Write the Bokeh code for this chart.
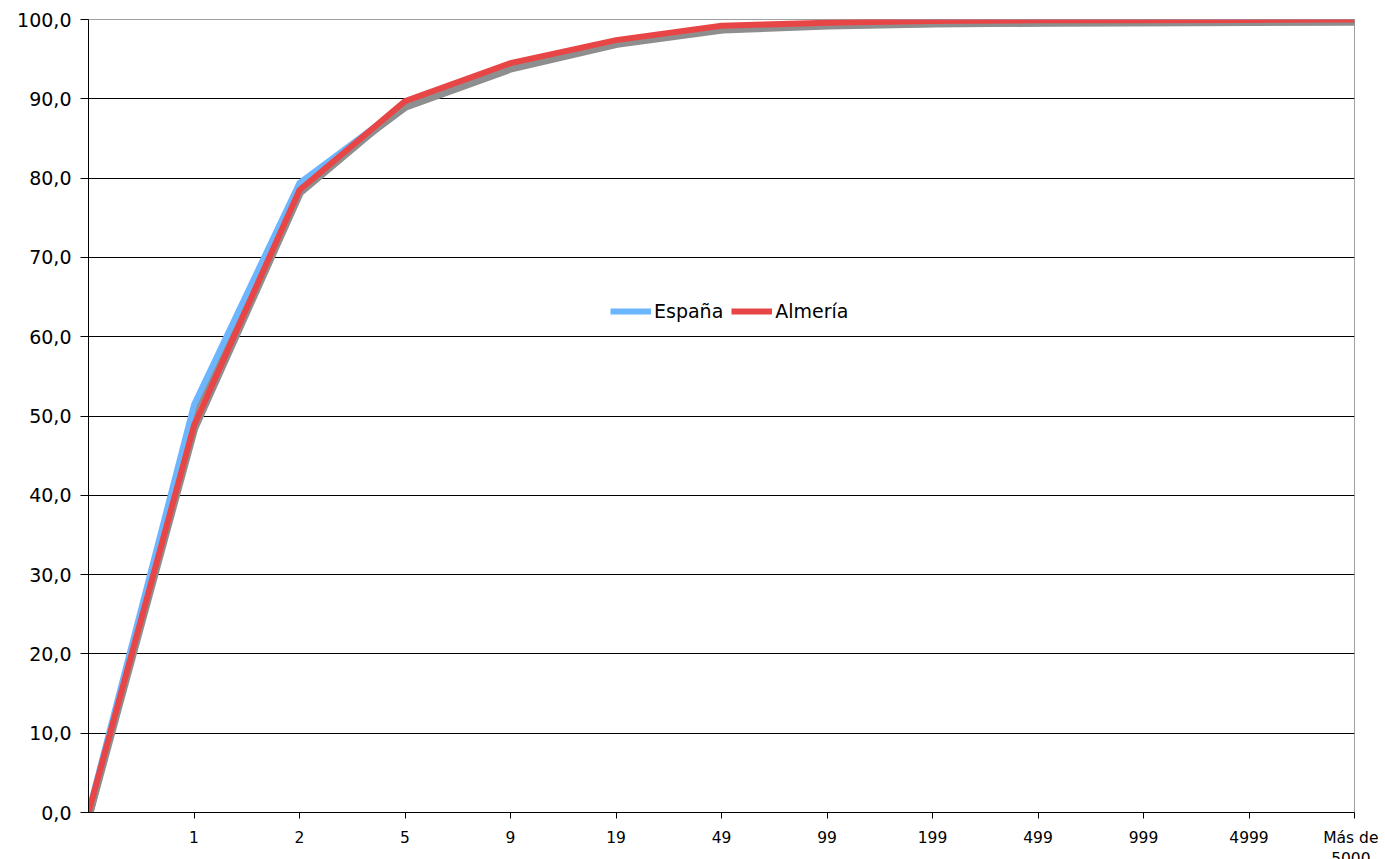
from bokeh.plotting import figure
from bokeh.models import FixedTicker, Legend, LegendItem, Range1d, ColumnDataSource
from bokeh.transform import dodge
from bokeh.embed import file_html
from bokeh.resources import INLINE

categories = ["", "1", "2", "5", "9", "19", "49", "99", "199", "499", "999", "4999", "Más de\n5000"]
espana = [0.0, 51.4, 79.4, 89.3, 94.1, 97.2, 99.0, 99.5, 99.75, 99.85, 99.9, 99.95, 100.0]
almeria = [0.0, 48.8, 78.5, 89.7, 94.5, 97.4, 99.2, 99.6, 99.8, 99.9, 99.9, 99.95, 100.0]
y_ticks = [0, 10, 20, 30, 40, 50, 60, 70, 80, 90, 100]
y_labels = ["0,0", "10,0", "20,0", "30,0", "40,0", "50,0", "60,0", "70,0", "80,0", "90,0", "100,0"]

xs = list(range(len(categories)))
src = ColumnDataSource(dict(x=xs, esp=espana, alm=almeria))

FONT = "DejaVu Sans"

p = figure(frame_width=1266, frame_height=793, min_border_left=88, min_border_top=19,
           min_border_right=24, min_border_bottom=40,
           output_backend="svg", toolbar_location=None,
           x_range=Range1d(0, len(categories) - 1), y_range=Range1d(0, 100))

p.outline_line_color = "#a0a0a0"
p.outline_line_width = 1
p.xgrid.visible = False
p.ygrid.ticker = FixedTicker(ticks=y_ticks[1:-1])
p.ygrid.grid_line_color = "#000000"
p.ygrid.grid_line_width = 1

# axes
p.yaxis.ticker = FixedTicker(ticks=y_ticks)
p.yaxis.major_label_overrides = {t: l for t, l in zip(y_ticks, y_labels)}
p.yaxis.major_label_text_font = FONT
p.yaxis.major_label_text_font_size = "19px"
p.yaxis.major_label_text_color = "#000000"
p.yaxis.axis_line_color = "#000000"
p.yaxis.major_tick_line_color = "#000000"
p.yaxis.major_tick_out = 8
p.yaxis.major_tick_in = 0
p.yaxis.minor_tick_line_color = None
p.yaxis.major_label_standoff = 9

p.xaxis.ticker = FixedTicker(ticks=xs[1:])
p.xaxis.major_label_overrides = {x: c for x, c in zip(xs, categories)}
p.xaxis.major_label_text_font = FONT
p.xaxis.major_label_text_font_size = "15.5px"
p.xaxis.major_label_text_color = "#000000"
p.xaxis.axis_line_color = "#000000"
p.xaxis.major_tick_line_color = "#000000"
p.xaxis.major_tick_out = 6
p.xaxis.major_tick_in = 0
p.xaxis.minor_tick_line_color = None
p.xaxis.major_label_standoff = 10

SHADOW = "#8e8e8e"
# España
p.line(x=dodge("x", 0.012), y=dodge("esp", -0.38), source=src, line_color=SHADOW, line_width=6, line_join="miter")
r_esp = p.line(x="x", y="esp", source=src, line_color="#6bb6ff", line_width=6, line_join="miter")
# Almería
p.line(x=dodge("x", 0.012), y=dodge("alm", -0.38), source=src, line_color=SHADOW, line_width=6, line_join="miter")
r_alm = p.line(x="x", y="alm", source=src, line_color="#e84646", line_width=6, line_join="miter")

legend = Legend(items=[LegendItem(label="España", renderers=[r_esp]),
                       LegendItem(label="Almería", renderers=[r_alm])],
                location=(518, 486), orientation="horizontal",
                label_text_font=FONT, label_text_font_size="19px", label_text_color="#000000",
                glyph_width=41, glyph_height=20, label_standoff=3, spacing=8,
                padding=4, margin=0, border_line_alpha=0, background_fill_alpha=0)
p.add_layout(legend, "center")

open("out.html", "w").write(file_html(p, INLINE))
